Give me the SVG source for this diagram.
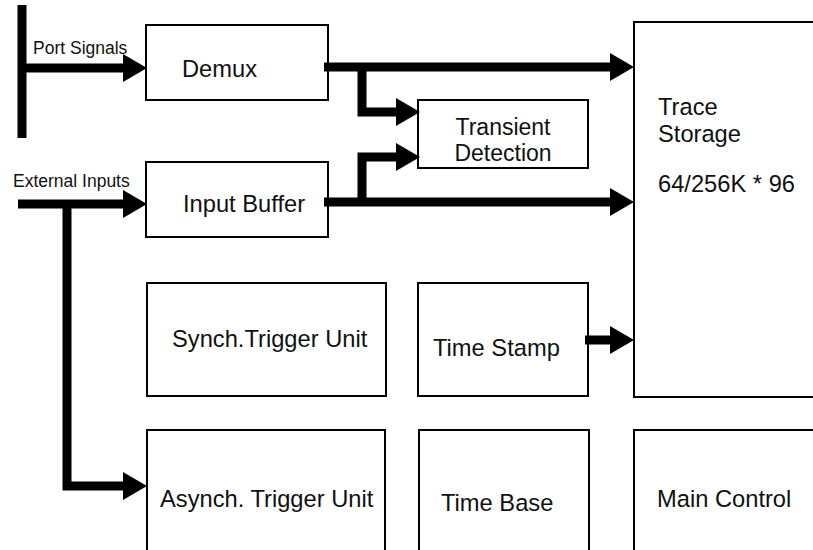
<svg xmlns="http://www.w3.org/2000/svg" width="813" height="550" viewBox="0 0 813 550">
<style>
.box{fill:#fff;stroke:#000;stroke-width:2}
.t{font-family:"Liberation Sans",Arial,sans-serif;font-size:23.7px;fill:#111}
.t2{font-family:"Liberation Sans",Arial,sans-serif;font-size:23px;fill:#111}
.lbl{font-family:"Liberation Sans",Arial,sans-serif;font-size:17.5px;fill:#111}
.bus{fill:none;stroke:#000;stroke-width:9;stroke-linejoin:miter;stroke-linecap:butt}
</style>
<defs>
<marker id="ah" markerUnits="userSpaceOnUse" markerWidth="24" markerHeight="28" refX="0" refY="14" orient="auto" overflow="visible">
<path d="M0,0 L24,14 L0,28 z" fill="#000"/>
</marker>
</defs>
<g id="demux"><rect class="box" x="146" y="25" width="182" height="75"/><text class="t" x="182" y="77">Demux</text></g>
<g id="input-buffer"><rect class="box" x="146" y="162" width="182" height="75"/><text class="t" x="183" y="212">Input Buffer</text></g>
<g id="transient-detection"><rect class="box" x="418" y="100" width="170" height="68"/><text class="t2" x="503" y="134.5" text-anchor="middle">Transient</text><text class="t2" x="503" y="160.5" text-anchor="middle">Detection</text></g>
<g id="trace-storage"><rect class="box" x="634" y="22" width="190" height="375"/><text class="t" x="658" y="115">Trace</text><text class="t" x="658" y="142">Storage</text><text class="t" x="658" y="192">64/256K * 96</text></g>
<g id="synch-trigger"><rect class="box" x="147" y="283" width="239" height="113"/><text class="t" x="172" y="347">Synch.Trigger Unit</text></g>
<g id="time-stamp"><rect class="box" x="418" y="283" width="170" height="113"/><text class="t" x="433" y="356">Time Stamp</text></g>
<g id="asynch-trigger"><rect class="box" x="147" y="430" width="238" height="140"/><text class="t" x="160" y="507">Asynch. Trigger Unit</text></g>
<g id="time-base"><rect class="box" x="419" y="430" width="170" height="140"/><text class="t" x="441" y="511">Time Base</text></g>
<g id="main-control"><rect class="box" x="634" y="430" width="190" height="140"/><text class="t" x="657" y="507">Main Control</text></g>
<g id="connectors">
<path class="bus" d="M22,5 V138"/>
<path class="bus" d="M22,68 H123" marker-end="url(#ah)"/>
<text class="lbl" x="33" y="54">Port Signals</text>
<path class="bus" d="M18,204 H123" marker-end="url(#ah)"/>
<text class="lbl" x="13" y="187">External Inputs</text>
<path class="bus" d="M67,204 V486 H123" marker-end="url(#ah)"/>
<path class="bus" d="M324,67 H610" marker-end="url(#ah)"/>
<path class="bus" d="M362,67 V112 H396" marker-end="url(#ah)"/>
<path class="bus" d="M324,202 H610" marker-end="url(#ah)"/>
<path class="bus" d="M362,202 V157 H396" marker-end="url(#ah)"/>
<path class="bus" d="M585,340 H610" marker-end="url(#ah)"/>
</g>
</svg>
